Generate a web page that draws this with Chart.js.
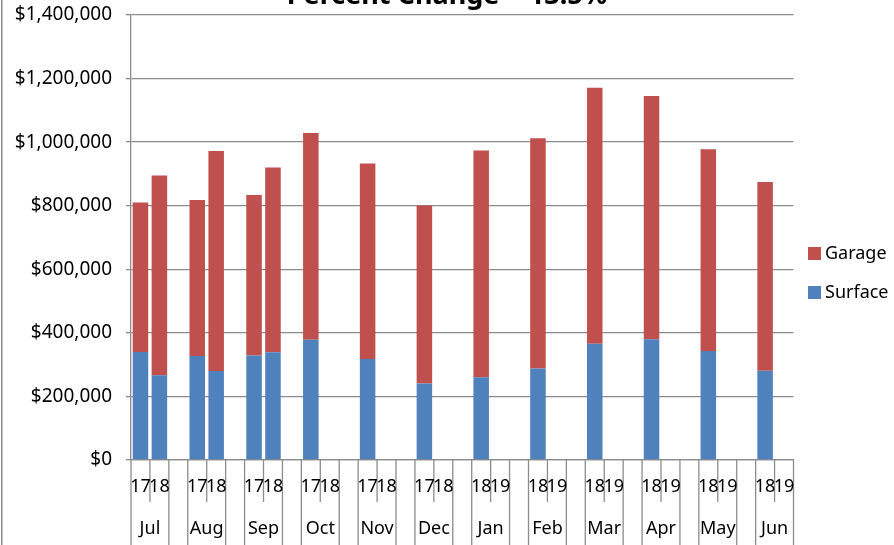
<!DOCTYPE html>
<html>
<head>
<meta charset="utf-8">
<script src="https://cdn.jsdelivr.net/npm/chart.js@4.4.1/dist/chart.umd.min.js"></script>
<style>
  html, body { margin: 0; padding: 0; background: #fff; }
  #wrap { position: relative; width: 894px; height: 545px; }
</style>
</head>
<body>
<div id="wrap"><canvas id="c" width="894" height="545"></canvas></div>
<script>
// Monthly parking revenue, split by lot type, fiscal years side by side
const months = ['Jul', 'Aug', 'Sep', 'Oct', 'Nov', 'Dec', 'Jan', 'Feb', 'Mar', 'Apr', 'May', 'Jun'];
const priorYear = ['17', '17', '17', '17', '17', '17', '18', '18', '18', '18', '18', '18'];
const currentYear = ['18', '18', '18', '18', '18', '18', '19', '19', '19', '19', '19', '19'];

const surfacePrior = [340000, 327000, 329000, 378000, 318000, 241000, 260000, 288000, 366000, 380000, 343000, 281000];
const garagePrior = [470000, 491000, 505000, 651000, 615000, 560000, 714000, 724000, 805000, 765000, 635000, 594000];
const surfaceCurrent = [267000, 280000, 339000, null, null, null, null, null, null, null, null, null];
const garageCurrent = [628000, 692000, 581000, null, null, null, null, null, null, null, null, null];

const chartTitle = 'Percent Change = 13.5%';
const yMax = 1400000;
const yStep = 200000;

// Three slots per month: prior year, current year, spacer (none after the last month)
const slotLabels = [];
const surfaceSlots = [];
const garageSlots = [];
months.forEach((m, i) => {
  slotLabels.push(priorYear[i], currentYear[i]);
  surfaceSlots.push(surfacePrior[i], surfaceCurrent[i]);
  garageSlots.push(garagePrior[i], garageCurrent[i]);
  if (i < months.length - 1) {
    slotLabels.push('');
    surfaceSlots.push(null);
    garageSlots.push(null);
  }
});

const FONT = '"Noto Sans", "Open Sans", sans-serif';
const LINE = '#8c8c8c';
const BLUE = '#4F81BD';
const RED = '#C0504D';

// Two-level category axis, legend, title and frame line
const decor = {
  id: 'decor',
  afterDraw(chart) {
    const { ctx, chartArea: a, scales: { x } } = chart;
    const n = chart.data.labels.length;
    const w = (a.right - a.left) / n;
    ctx.save();

    // frame line on the left edge
    ctx.fillStyle = LINE;
    ctx.fillRect(1, 0, 1.5, chart.height);

    // divider lines under the axis
    ctx.strokeStyle = LINE;
    ctx.lineWidth = 1.3;
    months.forEach((m, i) => {
      const s = i * 3;
      [[s, chart.height], [s + 1, 502], [s + 2, chart.height]].forEach(([k, y2]) => {
        const px = a.left + k * w;
        ctx.beginPath();
        ctx.moveTo(px, a.bottom);
        ctx.lineTo(px, y2);
        ctx.stroke();
      });
    });

    // year labels and month labels
    ctx.fillStyle = '#000';
    ctx.font = '18px ' + FONT;
    ctx.textAlign = 'center';
    ctx.textBaseline = 'middle';
    chart.data.labels.forEach((lab, i) => {
      if (lab) ctx.fillText(lab, x.getPixelForValue(i), 487);
    });
    months.forEach((m, i) => {
      ctx.fillText(m, a.left + (i * 3 + 1) * w, 529);
    });

    // legend (stacked order, top series first)
    const items = [
      { label: chart.data.datasets[1].label, color: chart.data.datasets[1].backgroundColor, y: 253.5 },
      { label: chart.data.datasets[0].label, color: chart.data.datasets[0].backgroundColor, y: 292.5 }
    ];
    ctx.textAlign = 'left';
    items.forEach(it => {
      ctx.fillStyle = it.color;
      ctx.fillRect(808, it.y - 6.5, 13, 13);
      ctx.fillStyle = '#000';
      ctx.fillText(it.label, 825, it.y);
    });

    // title
    ctx.font = 'bold 27px ' + FONT;
    ctx.textAlign = 'center';
    ctx.textBaseline = 'alphabetic';
    ctx.fillText(chartTitle, 447, 4);

    ctx.restore();
  }
};

new Chart(document.getElementById('c'), {
  type: 'bar',
  data: {
    labels: slotLabels,
    datasets: [
      { label: 'Surface', data: surfaceSlots, backgroundColor: BLUE },
      { label: 'Garage', data: garageSlots, backgroundColor: RED }
    ]
  },
  options: {
    responsive: false,
    animation: false,
    events: [],
    layout: { padding: { top: 15, right: 100.5, left: 0, bottom: 0 } },
    datasets: { bar: { categoryPercentage: 1, barPercentage: 0.82 } },
    plugins: { legend: { display: false }, title: { display: false }, tooltip: { enabled: false } },
    scales: {
      x: {
        stacked: true,
        offset: true,
        grid: { display: false },
        border: { display: true, color: LINE, width: 1.3 },
        ticks: { display: false },
        afterFit(s) { s.height = 85; s.paddingLeft = 0; s.paddingRight = 0; }
      },
      y: {
        stacked: true,
        min: 0,
        max: yMax,
        ticks: {
          stepSize: yStep,
          padding: 14,
          color: '#000',
          font: { family: FONT, size: 19 },
          callback: v => '$' + Number(v).toLocaleString('en-US')
        },
        grid: { color: LINE, lineWidth: 1.3, tickLength: 5, drawTicks: true },
        border: { display: true, color: LINE, width: 1.3 },
        afterFit(s) { s.width = 131; s.paddingTop = 0; s.paddingBottom = 0; }
      }
    }
  },
  plugins: [decor]
});
</script>
</body>
</html>
